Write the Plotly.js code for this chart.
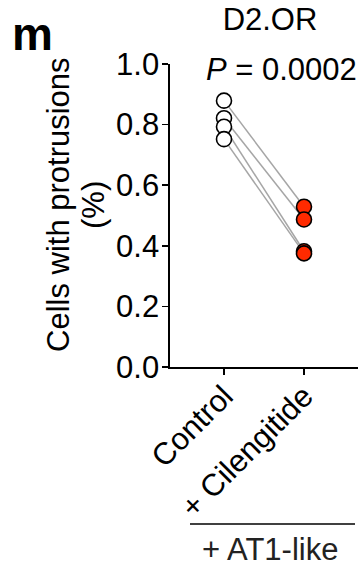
<!DOCTYPE html>
<html>
<head>
<meta charset="utf-8">
<script src="https://cdn.plot.ly/plotly-3.0.1.min.js"></script>
<style>html,body{margin:0;padding:0;background:#fff}#chart{width:360px;height:567px}</style>
</head>
<body>
<div id="chart"></div>
<script>
var categories = ["Control", "+ Cilengitide"];
var controlValues = [0.879, 0.821, 0.793, 0.752];
var cilengitideValues = [0.529, 0.487, 0.382, 0.375];
var yTickVals = [0, 0.2, 0.4, 0.6, 0.8, 1.0];
var yTickText = ["0.0", "0.2", "0.4", "0.6", "0.8", "1.0"];

var FONT = "Arial, 'Liberation Sans', Helvetica, sans-serif";
var FS = 31;
var traces = [];
for (var i = 0; i < controlValues.length; i++) {
  traces.push({
    x: [0, 1], y: [controlValues[i], cilengitideValues[i]],
    type: "scatter", mode: "lines",
    line: {color: "#a6a6a6", width: 1.5},
    hoverinfo: "skip", showlegend: false, cliponaxis: false
  });
}
traces.push({
  x: controlValues.map(function(){return 0;}), y: controlValues,
  type: "scatter", mode: "markers",
  marker: {size: 15, color: "#ffffff", line: {color: "#000000", width: 1.6}},
  showlegend: false, cliponaxis: false
});
traces.push({
  x: cilengitideValues.map(function(){return 1;}), y: cilengitideValues,
  type: "scatter", mode: "markers",
  marker: {size: 15, color: "#ff2a00", line: {color: "#000000", width: 1.6}},
  showlegend: false, cliponaxis: false
});

function px2x(p) { return (p - 170) / 188; }
function px2y(p) { return (367 - p) / 303; }

var layout = {
  width: 360, height: 567,
  margin: {l: 170, r: 2, t: 64, b: 200},
  paper_bgcolor: "#ffffff", plot_bgcolor: "#ffffff",
  font: {family: FONT, color: "#000000", size: FS},
  title: {text: "D2.OR", font: {family: FONT, size: FS, color: "#000"},
          x: 270/360, xanchor: "center", xref: "container",
          y: 1 - 19/567, yref: "container", yanchor: "middle"},
  xaxis: {
    range: [-0.675, 1.675],
    tickvals: [0, 1], ticktext: categories,
    tickangle: -45, automargin: false, ticklabelstandoff: -9,
    showline: true, linecolor: "#000", linewidth: 1.6,
    ticks: "outside", ticklen: 6, tickwidth: 1.6, tickcolor: "#000",
    showgrid: false, zeroline: false,
    tickfont: {family: FONT, size: FS, color: "#000"}
  },
  yaxis: {
    range: [0, 1.0], automargin: false, ticklabelstandoff: -3,
    tickvals: yTickVals, ticktext: yTickText,
    showline: true, linecolor: "#000", linewidth: 1.6,
    ticks: "outside", ticklen: 6, tickwidth: 1.6, tickcolor: "#000",
    showgrid: false, zeroline: false,
    tickfont: {family: FONT, size: FS, color: "#000"}
  },
  shapes: [{
    type: "line", xref: "paper", yref: "paper",
    x0: px2x(190), x1: px2x(355), y0: px2y(524), y1: px2y(524),
    line: {color: "#000", width: 1.5}
  }],
  annotations: [
    {text: "Cells with protrusions", xref: "paper", yref: "paper", textangle: -90,
     x: px2x(58), y: px2y(205), xanchor: "center", yanchor: "middle",
     showarrow: false, font: {family: FONT, size: FS, color: "#000"}},
    {text: "(%)", xref: "paper", yref: "paper", textangle: -90,
     x: px2x(93), y: px2y(205), xanchor: "center", yanchor: "middle",
     showarrow: false, font: {family: FONT, size: FS, color: "#000"}},
    {text: "<i>P</i> = 0.0002", xref: "paper", yref: "paper",
     x: px2x(281), y: px2y(69), xanchor: "center", yanchor: "middle",
     showarrow: false, font: {family: FONT, size: FS, color: "#000"}},
    {text: "+ AT1-like", xref: "paper", yref: "paper",
     x: px2x(270), y: px2y(549), xanchor: "center", yanchor: "middle",
     showarrow: false, font: {family: FONT, size: FS, color: "#222"}},
    {text: "<b>m</b>", xref: "paper", yref: "paper",
     x: px2x(32), y: px2y(34), xanchor: "center", yanchor: "middle",
     showarrow: false, font: {family: FONT, size: 46, color: "#000"}}
  ]
};
Plotly.newPlot("chart", traces, layout, {displayModeBar: false, staticPlot: true});
</script>
</body>
</html>
